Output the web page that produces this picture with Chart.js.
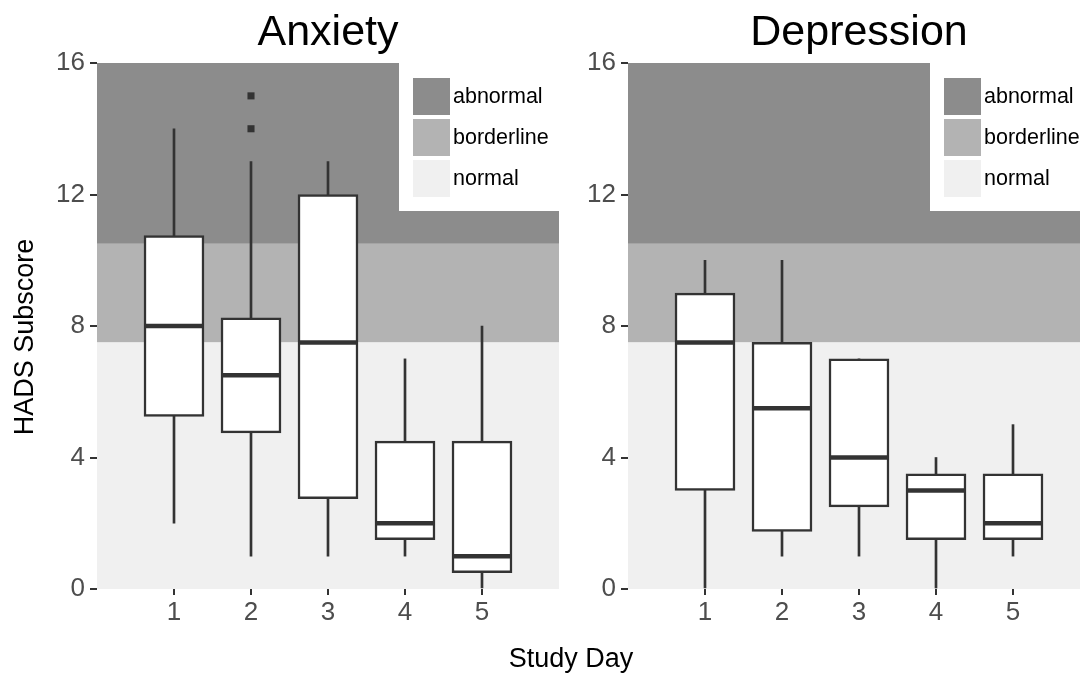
<!DOCTYPE html>
<html>
<head>
<meta charset="utf-8">
<script src="https://cdn.jsdelivr.net/npm/chart.js@4.4.1/dist/chart.umd.min.js"></script>
<style>
  html, body { margin: 0; padding: 0; background: #fff; overflow: hidden; }
  #wrap { position: relative; width: 1080px; height: 675px; overflow: hidden; }
  canvas { position: absolute; top: 0; }
  #anx { left: 0; width: 660px; height: 675px; }
  #dep { left: 540px; width: 560px; height: 675px; }
</style>
</head>
<body>
<div id="wrap">
  <canvas id="anx" width="660" height="675"></canvas>
  <canvas id="dep" width="560" height="675"></canvas>
</div>
<script>
// Study days on the x axis
const days = [1, 2, 3, 4, 5];
const yTicks = [0, 4, 8, 12, 16];

// Anxiety box plot stats per day
const anxLow  = [2, 1, 1, 1, 0];
const anxQ1   = [5.25, 4.75, 2.75, 1.5, 0.5];
const anxMed  = [8, 6.5, 7.5, 2, 1];
const anxQ3   = [10.75, 8.25, 12, 4.5, 4.5];
const anxHigh = [14, 13, 13, 7, 8];
const anxOutX = [2, 2];
const anxOutY = [14, 15];

// Depression box plot stats per day
const depLow  = [0, 1, 1, 0, 1];
const depQ1   = [3, 1.75, 2.5, 1.5, 1.5];
const depMed  = [7.5, 5.5, 4, 3, 2];
const depQ3   = [9, 7.5, 7, 3.5, 3.5];
const depHigh = [10, 10, 7, 4, 5];
const depOutX = [];
const depOutY = [];

// HADS bands
const bandNames  = ['abnormal', 'borderline', 'normal'];
const bandLow    = [10.5, 7.5, 0];
const bandHigh   = [16, 10.5, 7.5];
const bandColors = ['#8c8c8c', '#b3b3b3', '#f0f0f0'];

const FONT = "'Liberation Sans', Arial, sans-serif";
const INK = '#333333';
Chart.defaults.font.family = FONT;

// bands, legend box and panel texts
const hadsPlugin = {
    id: 'hads',
    beforeDatasetsDraw(chart, args, opts) {
        const { ctx, chartArea: a, scales: { y } } = chart;
        ctx.save();
        bandNames.forEach((n, i) => {
            const top = y.getPixelForValue(bandHigh[i]);
            const bot = y.getPixelForValue(bandLow[i]);
            ctx.fillStyle = bandColors[i];
            ctx.fillRect(a.left, top, a.right - a.left, bot - top);
        });

        // legend inside the panel, top right
        const bx = a.right - 160, by = a.top;
        ctx.fillStyle = '#fff';
        ctx.fillRect(bx, by, 160, 148);
        ctx.font = '21.5px ' + FONT;
        ctx.textBaseline = 'middle';
        ctx.textAlign = 'left';
        bandNames.forEach((n, i) => {
            const sy = by + 15 + i * 41;
            ctx.fillStyle = bandColors[i];
            ctx.fillRect(bx + 14, sy, 37, 37);
            ctx.fillStyle = '#000';
            ctx.fillText(n, bx + 54, sy + 19);
        });

        // panel title
        ctx.fillStyle = '#000';
        ctx.textAlign = 'center';
        ctx.textBaseline = 'alphabetic';
        ctx.font = '43px ' + FONT;
        ctx.fillText(opts.title, (a.left + a.right) / 2, a.top - 18);

        ctx.font = '27px ' + FONT;
        if (opts.xTitle) ctx.fillText(opts.xTitle, 571, 667);
        if (opts.yTitle) {
            ctx.translate(33, 337);
            ctx.rotate(-Math.PI / 2);
            ctx.fillText(opts.yTitle, 0, 0);
        }
        ctx.restore();
    }
};

function makeDatasets(low, q1, med, q3, high, outX, outY) {
    return [
        { type: 'line', label: 'outliers', order: 1, showLine: false,
          data: outX.map((x, i) => ({ x: x, y: outY[i] })),
          pointStyle: 'rect', pointRadius: 5, pointBackgroundColor: INK, pointBorderWidth: 0 },
        { type: 'line', label: 'median', order: 2, showLine: false,
          data: days.map((d, i) => ({ x: d, y: med[i] })),
          pointStyle: 'line', pointRadius: 29.5, pointBorderWidth: 4.5, pointBorderColor: INK },
        { type: 'bar', label: 'box', order: 3, grouped: false,
          data: days.map((d, i) => ({ x: d, y: [q1[i], q3[i]] })),
          barThickness: 60, backgroundColor: '#fff', borderColor: INK, borderWidth: 2.5, borderSkipped: false },
        { type: 'bar', label: 'whisker', order: 4, grouped: false,
          data: days.map((d, i) => ({ x: d, y: [low[i], high[i]] })),
          barThickness: 2, backgroundColor: INK, borderWidth: 0 }
    ];
}

function makeChart(id, datasets, cfg) {
    return new Chart(document.getElementById(id).getContext('2d'), {
        type: 'bar',
        data: { datasets: datasets },
        plugins: [hadsPlugin],
        options: {
            responsive: false, animation: false, events: [],
            layout: { autoPadding: false, padding: { top: 63, bottom: 0, left: 0, right: cfg.padRight } },
            plugins: {
                legend: { display: false }, tooltip: { enabled: false },
                hads: { title: cfg.title, xTitle: cfg.xTitle, yTitle: cfg.yTitle }
            },
            scales: {
                x: {
                    type: 'linear', min: 0, max: 6, offset: false,
                    afterBuildTicks: s => { s.ticks = days.map(v => ({ value: v })); },
                    afterFit: s => { s.height = 86; s.paddingLeft = 0; s.paddingRight = 0; },
                    border: { display: false },
                    grid: { offset: false, drawOnChartArea: false, drawTicks: true, tickLength: 6, color: INK, lineWidth: 2 },
                    ticks: { color: '#4d4d4d', font: { size: 26 }, padding: 2, maxRotation: 0 }
                },
                y: {
                    min: 0, max: 16,
                    afterBuildTicks: s => { s.ticks = yTicks.map(v => ({ value: v })); },
                    afterFit: s => { s.width = cfg.axisWidth; s.paddingTop = 0; s.paddingBottom = 0; },
                    border: { display: false },
                    grid: { drawOnChartArea: false, drawTicks: true, tickLength: 7, color: INK, lineWidth: 2 },
                    ticks: { color: '#4d4d4d', font: { size: 26 }, padding: 5 }
                }
            }
        }
    });
}

makeChart('anx', makeDatasets(anxLow, anxQ1, anxMed, anxQ3, anxHigh, anxOutX, anxOutY),
    { title: 'Anxiety', xTitle: 'Study Day', yTitle: 'HADS Subscore', axisWidth: 97, padRight: 101 });
makeChart('dep', makeDatasets(depLow, depQ1, depMed, depQ3, depHigh, depOutX, depOutY),
    { title: 'Depression', axisWidth: 88, padRight: 10 });
</script>
</body>
</html>
